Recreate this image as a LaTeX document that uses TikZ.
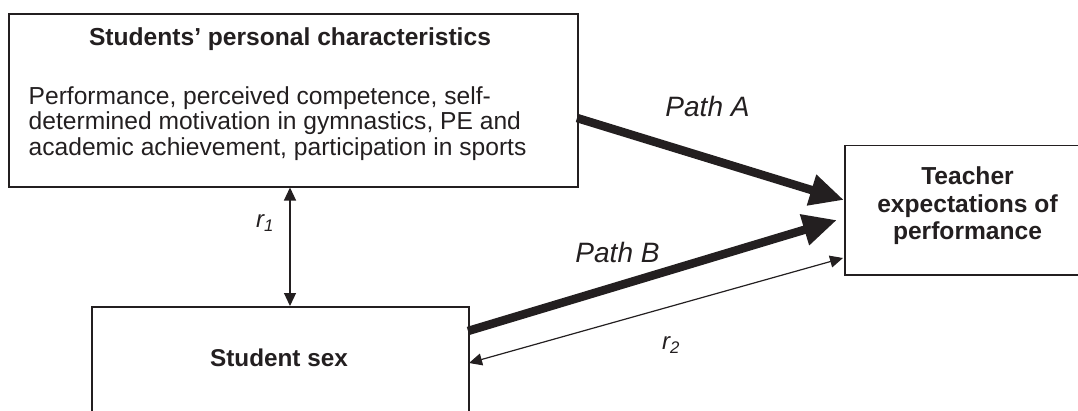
\documentclass[tikz,border=0pt]{standalone}
\usepackage{fontspec}
\setmainfont{Liberation Sans}
\usetikzlibrary{arrows.meta,calc}
\definecolor{ink}{HTML}{231F20}
\begin{document}
\begin{tikzpicture}[x=1pt,y=-1pt,
  box/.style={draw=ink,line width=1.5pt,inner sep=0pt,anchor=north west},
  lbl/.style={text=ink,inner sep=0pt},
  pathlbl/.style={lbl,font=\fontsize{28}{32}\selectfont\itshape},
  rlbl/.style={lbl,font=\fontsize{24}{28}\selectfont\itshape},
  headlbl/.style={lbl,font=\fontsize{24.6}{28}\selectfont\bfseries},
  thickarrow/.style={draw=ink,line width=8.5pt,-{Triangle[length=34pt,width=30pt]}},
  thinarrow/.style={draw=ink,line width=1.2pt,{Triangle[length=13pt,width=12pt]}-{Triangle[length=13pt,width=12pt]}}]
\useasboundingbox (0,0) rectangle (1078,410);
\clip (0,0) rectangle (1078,410);

% boxes
\node[box,minimum width=569pt,minimum height=173pt] (pc) at (8,13) {};
\node[box,minimum width=248pt,minimum height=129.5pt] (tea) at (844,144.5) {};
\node[box,minimum width=377pt,minimum height=110pt] (sex) at (91,306) {};

% box texts
\node[headlbl,anchor=base] (pchead) at (290,45.5) {Students’ personal characteristics};
\node[lbl,anchor=north west,align=left,font=\fontsize{24.6}{25.5}\selectfont] (pcbody) at (28.5,86)
  {Performance, perceived competence, self-\\determined motivation in gymnastics, PE and\\academic achievement, participation in sports};
\node[lbl,align=center,font=\fontsize{24.6}{27.5}\selectfont\bfseries] (teatext) at (967.5,206)
  {Teacher\\expectations of\\performance};
\node[lbl,anchor=base,font=\fontsize{24.3}{28}\selectfont\bfseries] (sextext) at (279,366) {Student sex};

% connection points on the box borders
\coordinate (aS) at (577,118);
\coordinate (aE) at (844,200);
\coordinate (bS) at (468,331);
\coordinate (bE) at (837,220);
\coordinate (r2S) at (469,363);
\coordinate (r2E) at (843,258);

% paths
\draw[thickarrow] (aS) -- (aE);
\draw[thickarrow] (bS) -- (bE);
\draw[thinarrow] (pc.south -| 290,0) -- (sex.north -| 290,0);
\draw[thinarrow] (r2S) -- (r2E);

% labels
\node[pathlbl,anchor=base] (la) at (707.5,116) {Path A};
\node[pathlbl,anchor=base] (lb) at (617.5,262.5) {Path B};
\node[rlbl] (r1) at (265,223) {r\textsubscript{1}};
\node[rlbl] (r2) at (671,345) {r\textsubscript{2}};
\end{tikzpicture}
\end{document}
